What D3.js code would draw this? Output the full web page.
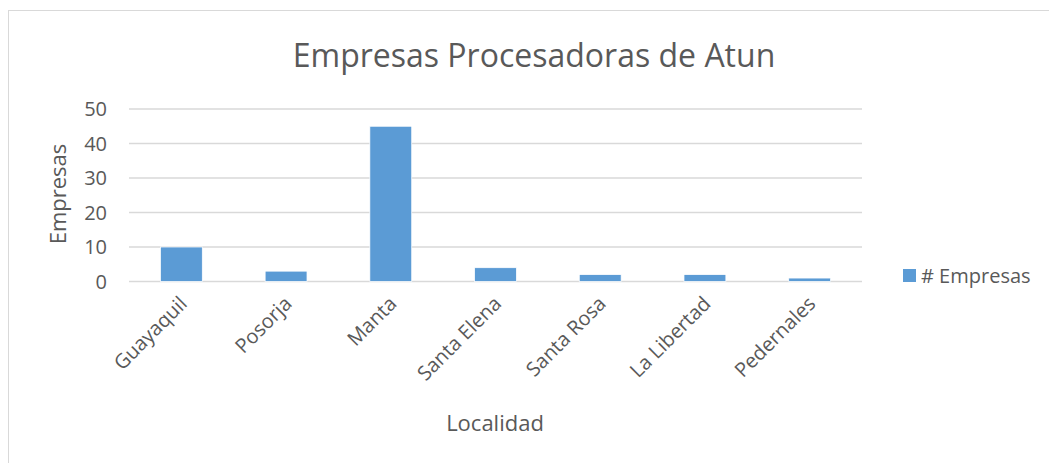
<!DOCTYPE html>
<html>
<head>
<meta charset="utf-8">
<script src="https://cdn.jsdelivr.net/npm/d3@7"></script>
<style>
  body { margin: 0; background: #fff; }
  text { font-family: "Open Sans", "Noto Sans", sans-serif; fill: #595959; }
</style>
</head>
<body>
<div id="chart"></div>
<script>
// data
const localidades = ["Guayaquil", "Posorja", "Manta", "Santa Elena", "Santa Rosa", "La Libertad", "Pedernales"];
const empresas = [10, 3, 45, 4, 2, 2, 1];
const yTicks = [0, 10, 20, 30, 40, 50];
const serieName = "# Empresas";

let width = 1049, height = 463;
let plot = { left: 129, right: 862, top: 109, bottom: 281.5 };

let svg = d3.select("#chart").append("svg")
    .attr("width", width)
    .attr("height", height);

// outer chart border
svg.append("rect")
    .attr("x", 8.5).attr("y", 10.5)
    .attr("width", 1100).attr("height", 500)
    .attr("fill", "none")
    .attr("stroke", "#d9d9d9");

let x = d3.scaleBand()
    .domain(localidades)
    .range([plot.left, plot.right])
    .paddingInner(0.6).paddingOuter(0.3);

let y = d3.scaleLinear()
    .domain([0, 50])
    .range([plot.bottom, plot.top]);

// gridlines
svg.append("g")
    .selectAll("line")
    .data(yTicks)
    .enter()
    .append("line")
    .attr("x1", plot.left).attr("x2", plot.right)
    .attr("y1", d => y(d)).attr("y2", d => y(d))
    .attr("stroke", "#d9d9d9")
    .attr("stroke-width", 1.5);

// y tick labels
svg.append("g")
    .selectAll("text")
    .data(yTicks)
    .enter()
    .append("text")
    .attr("x", 107)
    .attr("y", d => y(d))
    .attr("dy", "0.35em")
    .attr("text-anchor", "end")
    .style("font-size", "20px")
    .text(d => d);

// bars
svg.append("g")
    .selectAll("rect")
    .data(empresas)
    .enter()
    .append("rect")
    .attr("x", (d, i) => x(localidades[i]))
    .attr("y", d => y(d))
    .attr("width", x.bandwidth())
    .attr("height", d => y(0) - y(d))
    .attr("fill", "#5b9bd5")
    .attr("stroke", "#ffffff")
    .attr("stroke-width", 0.75);

// x labels rotated
svg.append("g")
    .selectAll("text")
    .data(localidades)
    .enter()
    .append("text")
    .attr("transform", d => "translate(" + (x(d) + x.bandwidth() / 2 + 7) + "," + 305 + ") rotate(-45)")
    .attr("text-anchor", "end")
    .style("font-size", "20px")
    .text(d => d);

// title
svg.append("text")
    .attr("x", 534)
    .attr("y", 67)
    .attr("text-anchor", "middle")
    .style("font-size", "32px")
    .text("Empresas Procesadoras de Atun");

// axis titles
svg.append("text")
    .attr("transform", "translate(66,194) rotate(-90)")
    .attr("text-anchor", "middle")
    .style("font-size", "22px")
    .text("Empresas");

svg.append("text")
    .attr("x", 495)
    .attr("y", 431)
    .attr("text-anchor", "middle")
    .style("font-size", "22px")
    .text("Localidad");

// legend
svg.append("rect")
    .attr("x", 903).attr("y", 269)
    .attr("width", 13).attr("height", 13)
    .attr("fill", "#5b9bd5");

svg.append("text")
    .attr("x", 921)
    .attr("y", 283)
    .style("font-size", "20px")
    .text(serieName);
</script>
</body>
</html>
